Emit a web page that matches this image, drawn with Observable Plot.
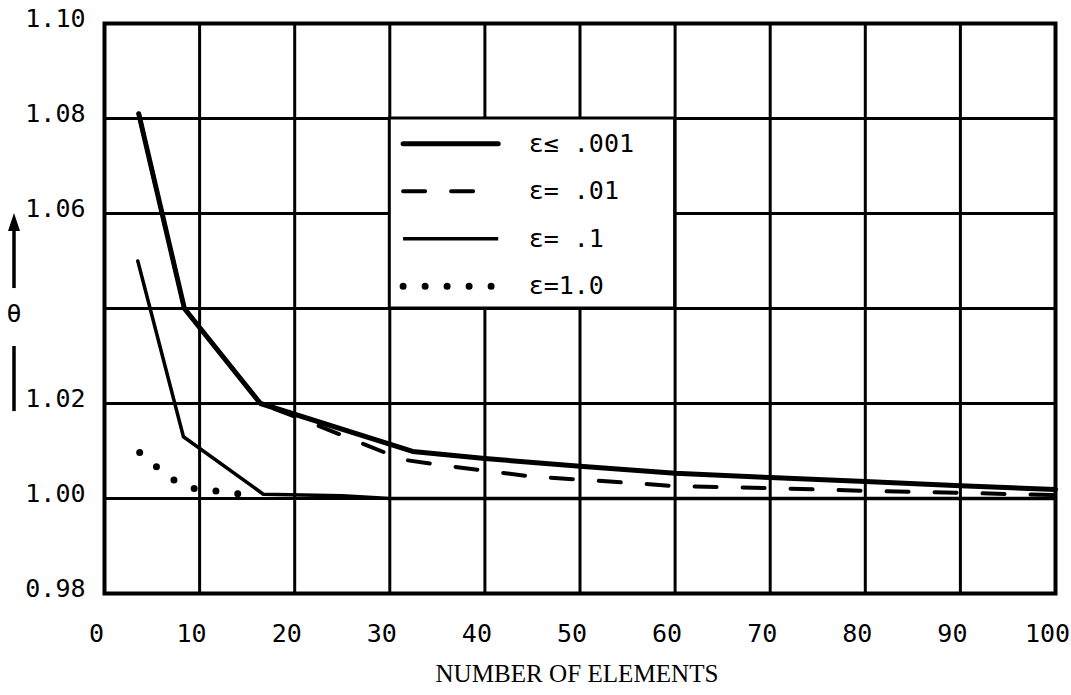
<!DOCTYPE html>
<html>
<head>
<meta charset="utf-8">
<script src="https://cdn.jsdelivr.net/npm/d3@7"></script>
<script src="https://cdn.jsdelivr.net/npm/@observablehq/plot@0.6"></script>
<style>
  body { margin: 0; background: #fff; }
  #chart { position: relative; width: 1071px; height: 695px; }
</style>
</head>
<body>
<div id="chart"></div>
<script>
// ---- data ----
const xTicks = [0, 10, 20, 30, 40, 50, 60, 70, 80, 90, 100];
const yGrid = [0.98, 1.00, 1.02, 1.04, 1.06, 1.08, 1.10];
const yLabeled = [0.98, 1.00, 1.02, 1.06, 1.08, 1.10];
const xLabel = "NUMBER OF ELEMENTS";
const yLabel = "θ";

// ε ≤ .001 (heavy solid)
const e001X = [3.6, 8.4, 16.4, 32.4, 40, 50, 60, 70, 80, 90, 100];
const e001Y = [1.081, 1.040, 1.020, 1.0099, 1.0084, 1.0068, 1.0053, 1.0044, 1.0036, 1.0027, 1.0019];
// ε = .01 (dashed)
const e01X = [3.6, 8.4, 16.4, 22.4, 26.6, 31.3, 35.9, 45, 56, 60, 70, 80, 90, 100];
const e01Y = [1.081, 1.040, 1.020, 1.0154, 1.012, 1.0082, 1.0069, 1.0046, 1.0032, 1.0026, 1.0022, 1.0016, 1.0012, 1.0007];
// ε = .1 (thin solid)
const e1X = [3.5, 8.3, 16.7, 25, 30, 100];
const e1Y = [1.050, 1.013, 1.0009, 1.0006, 1.0, 1.0];
// ε = 1.0 (dotted)
const e10X = [3.7, 5.7, 7.5, 9.7, 12.3, 14.8];
const e10Y = [1.0097, 1.0063, 1.0036, 1.0019, 1.0015, 1.0008];

const legendLabels = ["ε≤ .001", "ε= .01", "ε= .1", "ε=1.0"];

// ---- build tables ----
const toRows = (xs, ys) => xs.map((x, i) => ({x, y: ys[i]}));
const s001 = toRows(e001X, e001Y);
const s01 = toRows(e01X, e01Y);
const s1 = toRows(e1X, e1Y);
const s10 = toRows(e10X, e10Y);

const styles = [
  {strokeWidth: 5, strokeDasharray: null, linecap: "round"},
  {strokeWidth: 4, strokeDasharray: "22,26", linecap: "round"},
  {strokeWidth: 3.5, strokeDasharray: null, linecap: "butt"},
  {strokeWidth: 7, strokeDasharray: "0,22", linecap: "round"}
];

// legend box occupies the cell block x 30..60, y 1.04..1.08
const lgX1 = 30, lgX2 = 60, lgY1 = 1.04, lgY2 = 1.08;
const legendRows = legendLabels.map((label, i) => ({
  label,
  i,
  y: lgY2 - 0.0053 - i * 0.01
}));

const font = "'DejaVu Sans Mono', monospace";

const plot = Plot.plot({
  width: 1071,
  height: 695,
  marginLeft: 104,
  marginRight: 16,
  marginTop: 23,
  marginBottom: 102,
  style: {fontFamily: font, fontSize: "25px", color: "#000", background: "#fff"},
  x: {domain: [0, 100]},
  y: {domain: [0.98, 1.10]},
  marks: [
    Plot.ruleX(xTicks, {stroke: "#000", strokeWidth: 3}),
    Plot.ruleY(yGrid, {stroke: "#000", strokeWidth: 3}),
    Plot.frame({stroke: "#000", strokeWidth: 4}),
    // legend box
    Plot.rect([lgX1], {x1: lgX1, x2: lgX2, y1: lgY1, y2: lgY2, fill: "#fff", stroke: "#000", strokeWidth: 3}),
    // legend samples
    ...legendRows.map(r => Plot.link([r], {
      x1: 31.4, x2: 41.4, y1: d => d.y, y2: d => d.y,
      stroke: "#000", strokeWidth: styles[r.i].strokeWidth,
      strokeDasharray: styles[r.i].strokeDasharray,
      strokeLinecap: styles[r.i].linecap
    })),
    Plot.text(legendRows, {x: 44.6, y: "y", text: "label", textAnchor: "start", fontSize: 25, fill: "#000", fontFamily: font}),
    // series
    Plot.line(s01, {x: "x", y: "y", stroke: "#000", strokeWidth: styles[1].strokeWidth, strokeDasharray: styles[1].strokeDasharray, strokeLinecap: "round"}),
    Plot.line(s1, {x: "x", y: "y", stroke: "#000", strokeWidth: styles[2].strokeWidth}),
    Plot.line(s10, {x: "x", y: "y", stroke: "#000", strokeWidth: styles[3].strokeWidth, strokeDasharray: styles[3].strokeDasharray, strokeLinecap: "round"}),
    Plot.line(s001, {x: "x", y: "y", stroke: "#000", strokeWidth: styles[0].strokeWidth, strokeLinecap: "round", strokeLinejoin: "round"}),
    // axes
    Plot.axisX({ticks: xTicks, tickSize: 0, tickPadding: 31, dx: -8, tickFormat: d => String(d), fontSize: 25, label: null}),
    Plot.axisY({ticks: yLabeled, tickSize: 0, tickPadding: 19, dy: -5, tickFormat: d => d.toFixed(2), fontSize: 25, label: null}),
    // x-axis title
    Plot.text([xLabel], {frameAnchor: "bottom", dy: 88, dx: -3, text: d => d, className: "xtitle",
      fontFamily: "'Liberation Serif', 'DejaVu Serif', serif", fontSize: 25, fill: "#000"})
  ]
});

document.getElementById("chart").appendChild(plot);

const svg = d3.select(plot);
svg.selectAll(".xtitle text")
  .attr("font-family", "'Liberation Serif', 'DejaVu Serif', serif")
  .attr("textLength", 283)
  .attr("lengthAdjust", "spacingAndGlyphs");

// θ annotation with arrow on the left
const ys = plot.scale("y");
const yp = v => ys.apply(v);
const ax = 14;
const g = svg.append("g");
g.append("line").attr("x1", ax).attr("x2", ax).attr("y1", yp(1.0442)).attr("y2", yp(1.0570))
  .attr("stroke", "#000").attr("stroke-width", 3.5);
g.append("path")
  .attr("d", `M${ax},${yp(1.0600)} L${ax - 6},${yp(1.0562)} L${ax + 6},${yp(1.0562)} Z`)
  .attr("fill", "#000");
g.append("text").attr("x", ax).attr("y", yp(1.039)).attr("text-anchor", "middle").attr("dy", "0.35em")
  .attr("font-family", font).attr("font-size", 25).text(yLabel);
g.append("line").attr("x1", ax).attr("x2", ax).attr("y1", yp(1.032)).attr("y2", yp(1.0183))
  .attr("stroke", "#000").attr("stroke-width", 3.5);
</script>
</body>
</html>
